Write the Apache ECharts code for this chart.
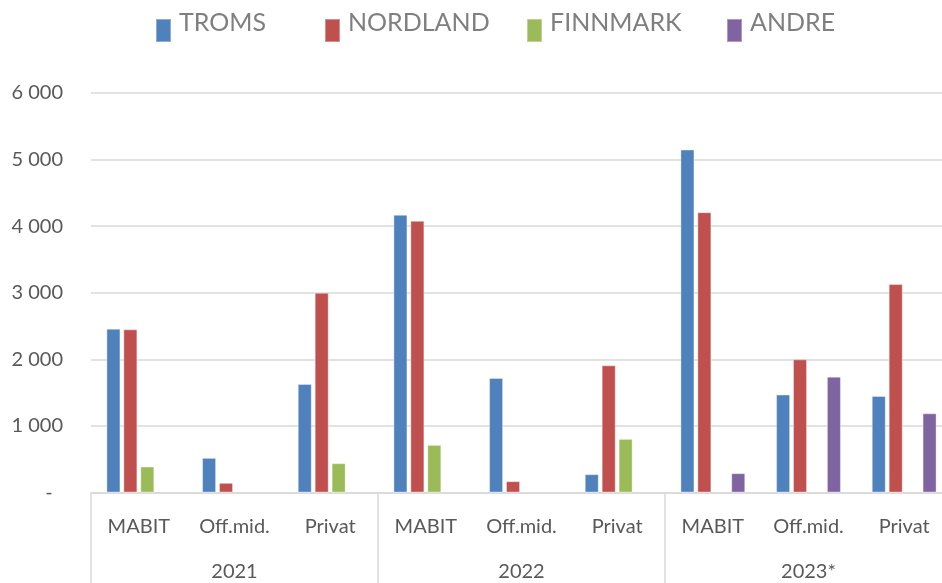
<!DOCTYPE html>
<html>
<head>
<meta charset="utf-8">
<script src="https://cdn.jsdelivr.net/npm/echarts@6/dist/echarts.min.js"></script>
<style>
html,body{margin:0;padding:0;background:#fff;}
#chart{width:942px;height:583px;}
</style>
</head>
<body>
<div id="chart"></div>
<script>
const categories = ['MABIT','Off.mid.','Privat','MABIT','Off.mid.','Privat','MABIT','Off.mid.','Privat'];
const years = ['2021','2022','2023*'];
const seriesNames = ['TROMS','NORDLAND','FINNMARK','ANDRE'];
const troms    = [2460, 520, 1630, 4170, 1720, 275, 5150, 1470, 1450];
const nordland = [2450, 145, 3000, 4080, 170, 1910, 4210, 2000, 3130];
const finnmark = [390, null, 440, 715, null, 805, null, null, null];
const andre    = [null, null, null, null, null, null, 290, 1740, 1190];
const yTicks = [0, 1000, 2000, 3000, 4000, 5000, 6000];

const colors = ['#4F81BD','#C0504D','#9BBB59','#8064A2'];
const values = [troms, nordland, finnmark, andre];
const legendLeft = [155, 324, 526, 726];
const FONT = 'Lato';

const chart = echarts.init(document.getElementById('chart'));
const legends = seriesNames.map((n, i) => ({
  data: [n],
  left: legendLeft[i],
  top: 3,
  padding: 0,
  itemWidth: 15,
  itemHeight: 38,
  icon: 'path://M0,0 M0,15 L15,15 L15,38 L0,38 Z',
  textStyle: { fontFamily: FONT, fontSize: 25, color: '#7f7f7f', padding: [0, 0, 0, 3] }
}));

chart.setOption({
  animation: false,
  color: colors,
  legend: legends,
  grid: { left: 91, width: 861, top: 93, bottom: 90.5, outerBoundsMode: 'none', containLabel: false },
  xAxis: [
    {
      type: 'category',
      data: categories,
      position: 'bottom',
      axisLine: { show: true, lineStyle: { color: '#d9d9d9', width: 1.5 } },
      axisTick: {
        show: true,
        length: 95,
        interval: (idx) => idx % 3 === 0,
        lineStyle: { color: '#d9d9d9', width: 1.5 }
      },
      axisLabel: { fontFamily: FONT, fontSize: 20, color: '#595959', margin: 24, interval: 0 }
    },
    {
      type: 'category',
      data: years,
      position: 'bottom',
      offset: 45,
      axisLine: { show: false },
      axisTick: { show: false },
      axisLabel: { fontFamily: FONT, fontSize: 20, color: '#595959', margin: 24, interval: 0 }
    }
  ],
  yAxis: {
    type: 'value',
    min: yTicks[0],
    max: yTicks[yTicks.length - 1],
    interval: 1000,
    axisLine: { show: false },
    axisTick: { show: false },
    splitLine: { lineStyle: { color: '#d9d9d9', width: 1.5 } },
    axisLabel: {
      fontFamily: FONT, fontSize: 20, color: '#595959', margin: 28,
      formatter: (v) => v === 0 ? '-  ' : String(v).replace(/\B(?=(\d{3})+(?!\d))/g, ' ')
    }
  },
  series: seriesNames.map((n, i) => ({
    name: n,
    type: 'bar',
    xAxisIndex: 0,
    data: values[i],
    barWidth: 14,
    barGap: '21%',
    itemStyle: { color: colors[i], borderColor: 'rgba(255,255,255,0.35)', borderWidth: 1 }
  }))
});
</script>
</body>
</html>
